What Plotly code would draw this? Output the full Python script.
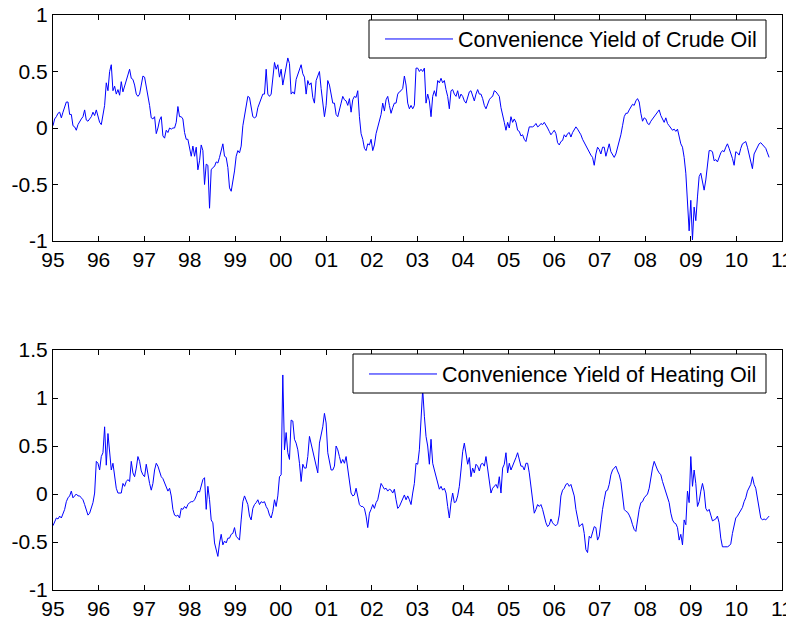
import numpy as np
import plotly.graph_objects as go
from plotly.subplots import make_subplots

# convenience yields, read off roughly every two weeks from Jan 1995
crude_a = [0.02, 0.08, 0.10, 0.13, 0.14, 0.09, 0.14, 0.18, 0.23, 0.23,
           0.12, 0.12, 0.02, 0.01, -0.02, 0.03, 0.06, 0.08, 0.10, 0.16,
           0.07, 0.06, 0.08, 0.10, 0.14, 0.11, 0.16, 0.10, 0.05, 0.03,
           0.12, 0.20, 0.40, 0.33, 0.50, 0.56, 0.33, 0.37, 0.30, 0.34,
           0.29, 0.41, 0.32, 0.37, 0.42, 0.45, 0.52, 0.44, 0.43, 0.38,
           0.30, 0.28, 0.30, 0.38, 0.46, 0.45, 0.37, 0.30, 0.20, 0.09,
           0.08, 0.10, -0.05, 0.00, 0.07, 0.10, -0.07, -0.09, -0.02, -0.04,
           0.00, -0.01, 0.00, 0.00, 0.05, 0.19, 0.10, 0.10, 0.08, -0.04,
           -0.10, -0.10, -0.18, -0.25, -0.16, -0.25, -0.17, -0.37, -0.29, -0.15,
           -0.20, -0.50, -0.32, -0.33, -0.71, -0.37, -0.35, -0.34, -0.30, -0.31,
           -0.26, -0.20, -0.14, -0.25, -0.26, -0.35, -0.53, -0.56, -0.48, -0.38,
           -0.25, -0.20, -0.22, -0.16, 0.02, 0.10, 0.18, 0.28, 0.27, 0.17,
           0.10, 0.09, 0.10, 0.18, 0.22, 0.26, 0.30, 0.30, 0.52, 0.30]
crude_b = [0.28, 0.30, 0.45, 0.58, 0.52, 0.56, 0.45, 0.52, 0.38, 0.47,
           0.55, 0.62, 0.57, 0.30, 0.32, 0.30, 0.43, 0.48, 0.52, 0.56,
           0.48, 0.45, 0.30, 0.42, 0.38, 0.40, 0.27, 0.22, 0.42, 0.47,
           0.50, 0.35, 0.22, 0.10, 0.20, 0.42, 0.38, 0.30, 0.22, 0.22,
           0.12, 0.10, 0.15, 0.22, 0.28, 0.25, 0.24, 0.20, 0.26, 0.14,
           0.25, 0.28, 0.27, 0.33, 0.10, -0.05, -0.10, -0.18, -0.20, -0.14,
           -0.15, -0.10, -0.20, -0.15, -0.05, 0.00, 0.05, 0.12, 0.22, 0.15,
           0.25, 0.28, 0.20, 0.13, 0.18, 0.22, 0.22, 0.30, 0.32, 0.33,
           0.35, 0.46, 0.38, 0.22, 0.17, 0.20, 0.17, 0.20, 0.53, 0.53,
           0.50, 0.52, 0.50, 0.53, 0.22, 0.30, 0.24, 0.10, 0.28, 0.33,
           0.28, 0.42, 0.40, 0.44, 0.40, 0.42, 0.34, 0.28, 0.17, 0.33,
           0.34, 0.30, 0.28, 0.33, 0.26, 0.30, 0.28, 0.24, 0.22, 0.27,
           0.32, 0.33, 0.28, 0.24, 0.30, 0.34, 0.30, 0.30, 0.26, 0.20,
           0.17, 0.22, 0.25, 0.27, 0.28, 0.33, 0.32, 0.30, 0.28, 0.18,
           0.10, 0.05, -0.02, 0.05, 0.00, 0.10, 0.05, 0.08, 0.05, -0.02,
           -0.03, -0.07, -0.06, -0.10, -0.12]
crude_c = [-0.04, 0.01, 0.01, 0.01, 0.02, 0.04, 0.01, 0.02, 0.04, 0.03,
           0.05, 0.03, 0.00, -0.03, -0.06, -0.04, -0.02, -0.05, -0.13, -0.15,
           -0.12, -0.11, -0.06, -0.08, -0.05, -0.04, -0.08, -0.04, -0.01, 0.01,
           -0.01, -0.03, -0.06, -0.10, -0.13, -0.15, -0.18, -0.21, -0.24, -0.26,
           -0.33, -0.23, -0.17, -0.19, -0.23, -0.17, -0.17, -0.25, -0.20, -0.14,
           -0.21, -0.23, -0.26, -0.23, -0.18, -0.12, -0.06, 0.02, 0.10, 0.13,
           0.13, 0.16, 0.18, 0.21, 0.20, 0.24, 0.26, 0.23, 0.13, 0.06,
           0.09, 0.08, 0.04, 0.03, 0.06, 0.08, 0.10, 0.12, 0.14, 0.16,
           0.11, 0.08, 0.05, 0.09, 0.04, 0.02, 0.00, -0.02, -0.01, -0.03,
           -0.01, -0.08, -0.14, -0.17, -0.26, -0.40, -0.61, -0.91, -0.64, -0.99,
           -0.70, -0.82, -0.61, -0.43, -0.40, -0.48, -0.55, -0.46, -0.32, -0.20,
           -0.20, -0.21, -0.29, -0.28, -0.30, -0.25, -0.22, -0.20, -0.21, -0.17,
           -0.14, -0.18, -0.22, -0.27, -0.33, -0.21, -0.22, -0.24, -0.18, -0.14,
           -0.13, -0.12, -0.17, -0.23, -0.28, -0.36, -0.23, -0.20, -0.17, -0.14,
           -0.13, -0.15, -0.17, -0.18, -0.22, -0.26]

heat_a = [-0.33, -0.28, -0.25, -0.26, -0.23, -0.25, -0.20, -0.16, -0.08, -0.04,
          -0.02, 0.03, -0.04, -0.02, 0.00, -0.02, -0.02, -0.04, -0.06, -0.11,
          -0.18, -0.22, -0.20, -0.15, -0.09, 0.01, 0.34, 0.32, 0.25, 0.39,
          0.43, 0.70, 0.30, 0.63, 0.46, 0.25, 0.32, 0.18, 0.06, 0.01,
          0.01, 0.01, 0.11, 0.08, 0.13, 0.15, 0.13, 0.34, 0.22, 0.18,
          0.27, 0.39, 0.34, 0.24, 0.20, 0.18, 0.31, 0.20, 0.11, 0.04,
          0.11, 0.25, 0.32, 0.29, 0.22, 0.18, 0.16, 0.11, 0.08, 0.03,
          0.06, -0.02, -0.16, -0.22, -0.23, -0.22, -0.25, -0.15, -0.16, -0.13,
          -0.15, -0.11, -0.09, -0.08, -0.08, -0.06, -0.02, 0.03, 0.02, 0.10,
          0.15, 0.17, -0.16, 0.08, -0.06, -0.27, -0.30, -0.51, -0.58, -0.65,
          -0.51, -0.42, -0.53, -0.49, -0.51, -0.46, -0.46, -0.42, -0.41, -0.35,
          -0.44, -0.46, -0.48, -0.27, -0.08, -0.02, -0.06, -0.11, -0.23, -0.27,
          -0.15, -0.11, -0.09, -0.06, -0.11, -0.08, -0.09, -0.08, -0.13, -0.16]
heat_b = [-0.22, -0.25, -0.18, -0.06, -0.13, -0.02, 0.18, 0.20, 1.24, 0.46,
          0.64, 0.43, 0.36, 0.77, 0.76, 0.57, 0.53, 0.46, 0.32, 0.13,
          0.31, 0.27, 0.27, 0.39, 0.60, 0.53, 0.43, 0.39, 0.31, 0.22,
          0.53, 0.62, 0.70, 0.84, 0.74, 0.43, 0.34, 0.25, 0.25, 0.29,
          0.50, 0.46, 0.39, 0.32, 0.36, 0.32, 0.39, 0.27, 0.11, 0.01,
          -0.02, -0.01, 0.06, -0.02, -0.11, -0.13, -0.13, -0.15, -0.23, -0.35,
          -0.20, -0.16, -0.11, -0.15, -0.09, -0.06, 0.01, 0.11, 0.08, 0.05,
          0.06, 0.03, 0.05, 0.04, 0.01, 0.05, -0.06, -0.15, -0.13, -0.09,
          -0.06, -0.01, -0.06, -0.02, -0.06, -0.11, 0.01, 0.11, 0.32, 0.31,
          0.46, 0.81, 1.09, 0.81, 0.60, 0.50, 0.31, 0.57, 0.32, 0.25,
          0.18, 0.11, 0.05, 0.08, 0.04, 0.06, 0.01, -0.13, -0.25, -0.09,
          0.01, -0.09, -0.08, -0.02, 0.08, 0.25, 0.44, 0.53, 0.39, 0.31,
          0.38, 0.18, 0.27, 0.22, 0.31, 0.29, 0.24, 0.31, 0.32, 0.29,
          0.39, 0.25, 0.11, 0.01, 0.06, 0.08, 0.10, 0.06, 0.18, 0.01,
          0.27, 0.31, 0.43, 0.22, 0.32, 0.25, 0.29, 0.34, 0.38, 0.43,
          0.34, 0.29, 0.29, 0.25, 0.32]
heat_c = [0.32, 0.22, 0.08, -0.06, -0.20, -0.16, -0.11, -0.13, -0.11, -0.16,
          -0.25, -0.30, -0.34, -0.32, -0.26, -0.30, -0.32, -0.33, -0.31, -0.22,
          -0.02, 0.04, 0.06, 0.10, 0.11, 0.08, 0.10, 0.05, -0.02, -0.16,
          -0.27, -0.34, -0.32, -0.31, -0.41, -0.58, -0.61, -0.44, -0.46, -0.41,
          -0.34, -0.35, -0.48, -0.44, -0.27, -0.16, -0.06, 0.03, 0.04, 0.10,
          0.20, 0.25, 0.27, 0.29, 0.24, 0.20, 0.13, 0.01, -0.16, -0.18,
          -0.19, -0.22, -0.26, -0.32, -0.37, -0.39, -0.27, -0.16, -0.09, -0.08,
          -0.04, -0.02, 0.00, 0.06, 0.18, 0.27, 0.34, 0.29, 0.25, 0.22,
          0.20, 0.13, 0.08, 0.01, -0.04, -0.09, -0.20, -0.27, -0.30, -0.31,
          -0.35, -0.48, -0.42, -0.53, -0.27, -0.32, 0.03, -0.09, 0.39, 0.08,
          0.25, 0.11, -0.13, -0.08, 0.03, 0.11, 0.03, -0.15, -0.18, -0.16,
          -0.22, -0.28, -0.27, -0.26, -0.23, -0.30, -0.46, -0.55, -0.55, -0.55,
          -0.55, -0.54, -0.52, -0.41, -0.32, -0.25, -0.23, -0.20, -0.16, -0.14,
          -0.08, -0.04, 0.03, 0.07, 0.10, 0.18, 0.10, 0.06, -0.06, -0.15,
          -0.25, -0.27, -0.26, -0.27, -0.25, -0.23]

crude = crude_a + crude_b + crude_c
heating = heat_a + heat_b + heat_c

step = 0.03655  # ~2 weeks, in years
t_crude = 1995 + np.arange(len(crude)) * step
t_heat = 1995 + np.arange(len(heating)) * step

year_ticks = list(range(1995, 2012))
year_labels = ["95", "96", "97", "98", "99", "00", "01", "02", "03",
               "04", "05", "06", "07", "08", "09", "10", "11"]
top_ticks = [-1, -0.5, 0, 0.5, 1]
top_labels = ["-1", "-0.5", "0", "0.5", "1"]
bot_ticks = [-1, -0.5, 0, 0.5, 1, 1.5]
bot_labels = ["-1", "-0.5", "0", "0.5", "1", "1.5"]

OFF = 8  # page body margin
W, H = 794 - OFF, 623 - OFF  # fit the window without scrollbars


def px(x):
    return (x - OFF) / W


def py(y):
    return 1 - (y - OFF) / H


font = dict(family="Liberation Sans, Arial, sans-serif", size=21, color="black")

fig = make_subplots(rows=2, cols=1)
fig.add_trace(go.Scatter(x=t_crude, y=crude, mode="lines",
                         line=dict(color="#0000ff", width=1),
                         name="Convenience Yield of Crude Oil", legend="legend"),
              row=1, col=1)
fig.add_trace(go.Scatter(x=t_heat, y=heating, mode="lines",
                         line=dict(color="#0000ff", width=1),
                         name="Convenience Yield of Heating Oil", legend="legend2"),
              row=2, col=1)

axis_style = dict(showgrid=False, zeroline=False, showline=True, linecolor="black",
                  linewidth=1, mirror="ticks", ticks="inside", ticklen=5,
                  tickcolor="black", tickfont=font, automargin=False,
                  ticklabeloverflow="allow")

for r in (1, 2):
    fig.update_xaxes(range=[1995, 2011], tickvals=year_ticks, ticktext=year_labels,
                     domain=[px(53), px(782)], row=r, col=1, **axis_style)

fig.update_yaxes(range=[-1, 1], tickvals=top_ticks, ticktext=top_labels,
                 domain=[py(241), py(15)], row=1, col=1, **axis_style)
fig.update_yaxes(range=[-1, 1.5], tickvals=bot_ticks, ticktext=bot_labels,
                 domain=[py(590), py(350)], row=2, col=1, **axis_style)

# legend boxes (white, framed) drawn as shapes so they hide the line beneath
for x0, y0, x1, y1 in [(369, 20, 766, 58), (353, 354, 766, 393)]:
    fig.add_shape(type="rect", xref="paper", yref="paper",
                  x0=px(x0), x1=px(x1), y0=py(y1), y1=py(y0),
                  fillcolor="white", line=dict(color="black", width=1), layer="above")

leg = dict(font=dict(family="Liberation Sans, Arial, sans-serif", size=21.5, color="black"),
           bgcolor="rgba(0,0,0,0)", borderwidth=0,
           xanchor="right", yanchor="middle", itemwidth=68)

fig.update_layout(
    width=W, height=H,
    margin=dict(l=0, r=0, t=0, b=0, autoexpand=False),
    paper_bgcolor="white", plot_bgcolor="white",
    showlegend=True,
    legend=dict(x=px(762), y=py(39), **leg),
    legend2=dict(x=px(762), y=py(374), **leg),
)

fig.write_html("out.html")
